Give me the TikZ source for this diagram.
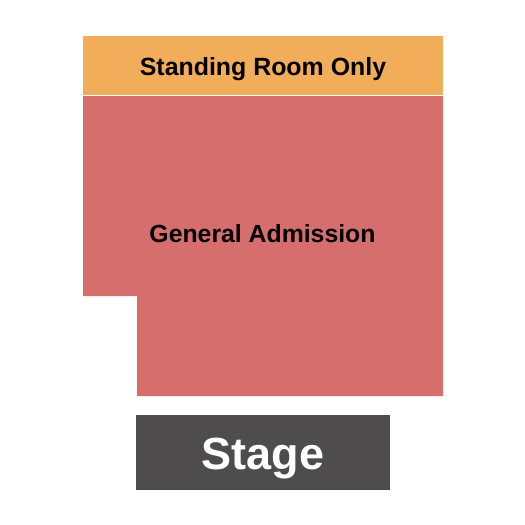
\documentclass[tikz,border=0pt]{standalone}
\usepackage{fontspec}
\setmainfont{Liberation Sans}
\definecolor{sroC}{RGB}{241,173,90}
\definecolor{gaC}{RGB}{214,110,110}
\definecolor{stageC}{RGB}{78,76,77}
\tikzset{lbl/.style={inner sep=0pt, anchor=base}}
\begin{document}
\begin{tikzpicture}[x=1pt,y=-1pt]
\useasboundingbox[fill=white] (0,0) rectangle (525,525);
\fill[sroC] (83,36) rectangle (443,95);
\fill[gaC] (83,96) -- (443,96) -- (443,396) -- (137,396) -- (137,296) -- (83,296) -- cycle;
\fill[stageC] (136,415) rectangle (390,490);
\node[lbl, font=\fontsize{24.9}{28}\selectfont\bfseries] (sro) at (263,75) {Standing Room Only};
\node[lbl, font=\fontsize{24.8}{28}\selectfont\bfseries] (ga) at (262.5,242) {General Admission};
\node[lbl, font=\fontsize{45}{50}\selectfont\bfseries, text=white] (stage) at (263,469) {Stage};
\end{tikzpicture}
\end{document}
